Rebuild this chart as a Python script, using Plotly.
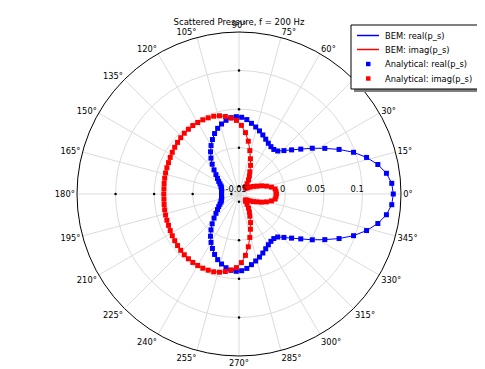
import plotly.graph_objects as go

# Angles (degrees) of the sampled points, 4-degree steps
theta_deg = [
    0, 4, 8, 12, 16, 20, 24, 28, 32, 36, 40, 44, 48, 52, 56, 60, 64, 68, 72, 76,
    80, 84, 88, 92, 96, 100, 104, 108, 112, 116, 120, 124, 128, 132, 136, 140, 144, 148, 152, 156,
    160, 164, 168, 172, 176, 180, 184, 188, 192, 196, 200, 204, 208, 212, 216, 220, 224, 228, 232, 236,
    240, 244, 248, 252, 256, 260, 264, 268, 272, 276, 280, 284, 288, 292, 296, 300, 304, 308, 312, 316,
    320, 324, 328, 332, 336, 340, 344, 348, 352, 356, 360,
]

# real(p_s)
real_ps = [
    0.140, 0.1385, 0.133, 0.124, 0.112, 0.098, 0.082, 0.066, 0.052, 0.039,
    0.029, 0.021, 0.015, 0.0133, 0.014, 0.016, 0.019, 0.0225, 0.026, 0.0295,
    0.033, 0.037, 0.0395, 0.0403, 0.0395, 0.037, 0.0335, 0.0295, 0.0245, 0.0185,
    0.0125, 0.006, -0.001, -0.008, -0.015, -0.021, -0.0255, -0.029, -0.032, -0.0345,
    -0.0355, -0.0365, -0.037, -0.0372, -0.0373, -0.0373,
    -0.0373, -0.0372, -0.037, -0.0365, -0.0355, -0.0345, -0.032, -0.029, -0.0255, -0.021,
    -0.015, -0.008, -0.001, 0.006, 0.0125, 0.0185, 0.0245, 0.0295, 0.0335, 0.037,
    0.0395, 0.0403, 0.0395, 0.037, 0.033, 0.0295, 0.026, 0.0225, 0.019, 0.016,
    0.014, 0.0133, 0.015, 0.021, 0.029, 0.039, 0.052, 0.066, 0.082, 0.098,
    0.112, 0.124, 0.133, 0.1385, 0.140,
]

# imag(p_s)
imag_ps = [
    -0.0115, -0.012, -0.0127, -0.017, -0.023, -0.029, -0.035, -0.039, -0.043, -0.046,
    -0.048, -0.0485, -0.047, -0.043, -0.038, -0.033, -0.028, -0.020, -0.012, -0.002,
    0.0095, 0.020, 0.029, 0.0355, 0.039, 0.042, 0.0445, 0.046, 0.0465, 0.047,
    0.047, 0.047, 0.0465, 0.046, 0.045, 0.044, 0.043, 0.042, 0.041, 0.040,
    0.0395, 0.039, 0.0385, 0.038, 0.0375, 0.0375,
    0.0375, 0.038, 0.0385, 0.039, 0.0395, 0.040, 0.041, 0.042, 0.043, 0.044,
    0.045, 0.046, 0.0465, 0.047, 0.047, 0.047, 0.0465, 0.046, 0.0445, 0.042,
    0.039, 0.0355, 0.029, 0.020, 0.0095, -0.002, -0.012, -0.020, -0.028, -0.033,
    -0.038, -0.043, -0.047, -0.0485, -0.048, -0.046, -0.043, -0.039, -0.035, -0.029,
    -0.023, -0.017, -0.0127, -0.012, -0.0115,
]

radial_range = [-0.06, 0.15]
radial_ticks = [-0.05, 0, 0.05, 0.1]
radial_tick_text = ["-0.05", "0", "0.05", "0.1"]
tick_mark_angles = [90, 180, 270]

series_names = ["BEM: real(p_s)", "BEM: imag(p_s)",
                "Analytical: real(p_s)", "Analytical: imag(p_s)"]

FONT = "DejaVu Sans, Liberation Sans, sans-serif"
BLUE = "#0000ff"
RED = "#ff0000"
GRID = "#dcdcdc"
NBSP = "\u00a0"

fig = go.Figure()

fig.add_trace(go.Scatterpolar(
    r=real_ps, theta=theta_deg, mode="lines", name=series_names[0],
    line=dict(color=BLUE, width=1)))
fig.add_trace(go.Scatterpolar(
    r=imag_ps, theta=theta_deg, mode="lines", name=series_names[1],
    line=dict(color=RED, width=1)))
fig.add_trace(go.Scatterpolar(
    r=real_ps[:-1], theta=theta_deg[:-1], mode="markers", name=series_names[2],
    marker=dict(color=BLUE, symbol="square", size=5, line=dict(width=0))))
fig.add_trace(go.Scatterpolar(
    r=imag_ps[:-1], theta=theta_deg[:-1], mode="markers", name=series_names[3],
    marker=dict(color=RED, symbol="square", size=5, line=dict(width=0))))

# small radial tick marks along the 90/180/270 spokes
tr, tt = [], []
for a in tick_mark_angles:
    for rv in radial_ticks:
        tr.append(rv)
        tt.append(a)
fig.add_trace(go.Scatterpolar(
    r=tr, theta=tt, mode="markers", showlegend=False, hoverinfo="skip",
    marker=dict(color="black", size=2.5)))

# The page body adds an 8px margin; positions below are in window pixels.
PAGE = 8
W, H = 485, 369
L, T = 77 - PAGE, 32 - PAGE
pw = ph = 324
R = W - L - pw
B = H - T - ph


def px_x(x):
    return (x - PAGE - L) / pw


def px_y(y):
    return (T + ph - (y - PAGE)) / ph


# right-align radial labels to their tick (matplotlib style) by padding
pad = {"-0.05": 8, "0": 2, "0.05": 6, "0.1": 4}
radial_labels = [t + NBSP * pad[t] for t in radial_tick_text]

fig.update_layout(
    width=W, height=H,
    margin=dict(l=L, r=R, t=T, b=B, autoexpand=False),
    paper_bgcolor="white",
    plot_bgcolor="white",
    showlegend=False,
    font=dict(family=FONT, size=8.3, color="black"),
    title=dict(text="Scattered Pressure, f = 200 Hz", x=px_x(239), xref="paper",
               xanchor="center", y=1 - (22 - PAGE) / H, yanchor="middle",
               font=dict(family=FONT, size=8.5, color="black")),
    polar=dict(
        bgcolor="white",
        domain=dict(x=[0, 1], y=[0, 1]),
        angularaxis=dict(
            rotation=0, direction="counterclockwise", dtick=15,
            ticksuffix="°", ticks="", showline=True, linecolor="black", linewidth=1,
            showgrid=True, gridcolor=GRID, gridwidth=1,
            tickfont=dict(family=FONT, size=8.3, color="black"),
        ),
        radialaxis=dict(
            range=radial_range, angle=0, side="counterclockwise",
            tickvals=radial_ticks, ticktext=radial_labels, tickangle=0,
            showline=False, showgrid=True, gridcolor=GRID, gridwidth=1,
            ticks="", tickfont=dict(family=FONT, size=8.3, color="black"),
        ),
    ),
)

# ---- legend (matplotlib-style box with drop shadow) ----
box_l, box_r, box_t, box_b = 351, 478, 25, 89
shadow = 3
fig.add_shape(type="rect", xref="paper", yref="paper",
              x0=px_x(box_l + shadow), x1=px_x(box_r + shadow),
              y0=px_y(box_b + shadow), y1=px_y(box_t + shadow),
              fillcolor="#808080", line=dict(width=0), layer="above")
fig.add_shape(type="rect", xref="paper", yref="paper",
              x0=px_x(box_l), x1=px_x(box_r), y0=px_y(box_b), y1=px_y(box_t),
              fillcolor="white", line=dict(color="black", width=1), layer="above")
row_y = [35.5, 49.5, 64, 78.5]
colors = [BLUE, RED, BLUE, RED]
for i, name in enumerate(series_names):
    y = row_y[i]
    if i < 2:
        fig.add_shape(type="line", xref="paper", yref="paper",
                      x0=px_x(357), x1=px_x(379), y0=px_y(y), y1=px_y(y),
                      line=dict(color=colors[i], width=1.5), layer="above")
    else:
        fig.add_shape(type="rect", xref="paper", yref="paper",
                      x0=px_x(366), x1=px_x(370.5), y0=px_y(y + 2.2), y1=px_y(y - 2.2),
                      fillcolor=colors[i], line=dict(width=0), layer="above")
    fig.add_annotation(text=name, xref="paper", yref="paper",
                       x=px_x(383), y=px_y(y), xanchor="left", yanchor="middle",
                       showarrow=False, font=dict(family=FONT, size=8.3, color="black"))

fig.write_html("out.html")
